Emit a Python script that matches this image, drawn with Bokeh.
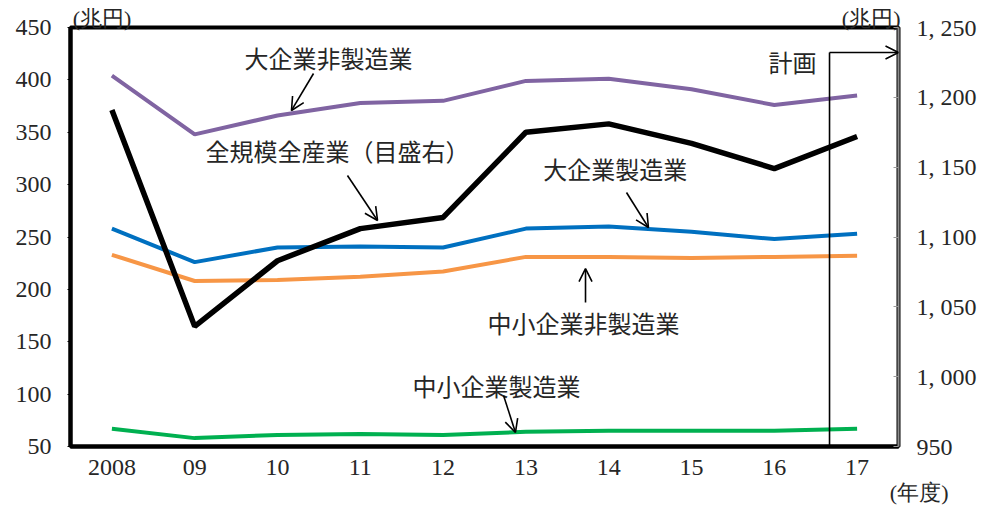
from bokeh.plotting import figure
from bokeh.models import (Range1d, LinearAxis, Label, Arrow, OpenHead,
                          FixedTicker, Title)
from bokeh.embed import file_html
from bokeh.resources import INLINE

# ---- data ----
years = ["2008", "09", "10", "11", "12", "13", "14", "15", "16", "17"]
large_nonmfg = [404, 348, 366, 378, 380, 399, 401, 391, 376, 385]   # 大企業非製造業
large_mfg = [258, 226, 240, 241, 240, 258, 260, 255, 248, 253]      # 大企業製造業
sme_nonmfg = [233, 208, 209, 212, 217, 231, 231, 230, 231, 232]     # 中小企業非製造業
sme_mfg = [67, 58, 61, 62, 61, 64, 65, 65, 65, 67]                  # 中小企業製造業
all_total = [1191, 1036, 1083, 1106, 1114, 1175, 1181, 1167, 1149, 1172]  # 全規模全産業（目盛右）

left_ticks = [50, 100, 150, 200, 250, 300, 350, 400, 450]
right_ticks = [950, 1000, 1050, 1100, 1150, 1200, 1250]
right_labels = ["950", "1, 000", "1, 050", "1, 100", "1, 150", "1, 200", "1, 250"]
unit_pos = [0.38, 9.67]
unit_labels = ["(兆円)", "(兆円)"]
x_unit_label = "(年度)"

# category slots: each year occupies one unit, centred at i + 0.5
xs = [i + 0.5 for i in range(len(years))]

JP = "Noto Sans CJK JP"
NUM = "Liberation Serif"
TXT = "#262626"

p = figure(x_range=Range1d(0, len(years)), y_range=Range1d(50, 450),
           frame_width=828, frame_height=419,
           min_border_left=70, min_border_right=78, min_border_top=27, min_border_bottom=65,
           output_backend="svg", toolbar_location=None)
p.extra_y_ranges = {"right": Range1d(950, 1250)}

p.xgrid.visible = False
p.ygrid.visible = False
p.outline_line_color = "black"
p.outline_line_width = 4
p.outline_line_alpha = 1
p.background_fill_color = "white"
p.border_fill_color = "white"

# left axis
yl = p.yaxis[0]
yl.ticker = FixedTicker(ticks=left_ticks)
yl.axis_line_width = 4
yl.axis_line_color = "black"
yl.major_tick_out = 3
yl.major_tick_in = 0
yl.minor_tick_out = 0
yl.minor_tick_in = 0
yl.major_label_text_font = NUM
yl.major_label_text_font_size = "24px"
yl.major_label_text_color = TXT
yl.major_label_standoff = 16

# bottom axis
xb = p.xaxis[0]
xb.ticker = FixedTicker(ticks=xs)
xb.major_label_overrides = {x: y for x, y in zip(xs, years)}
xb.axis_line_width = 4
xb.axis_line_color = "black"
xb.major_tick_out = 0
xb.major_tick_in = 0
xb.minor_tick_out = 0
xb.minor_tick_in = 0
xb.major_label_text_font = NUM
xb.major_label_text_font_size = "24px"
xb.major_label_text_color = TXT
xb.major_label_standoff = 13

# (年度) below the x axis, right of the frame
t = Title(text=x_unit_label, align="right", offset=-50, standoff=0,
          text_font=NUM, text_font_size="22px", text_font_style="normal",
          text_color=TXT)
p.add_layout(t, "below")

# right axis
yr = LinearAxis(y_range_name="right", ticker=FixedTicker(ticks=right_ticks),
                major_label_overrides={t_: s for t_, s in zip(right_ticks, right_labels)})
yr.axis_line_color = "#8c8c8c"
yr.axis_line_width = 2
yr.major_tick_in = 5
yr.major_tick_out = 0
yr.major_tick_line_color = "#9a9a9a"
yr.minor_tick_in = 0
yr.minor_tick_out = 0
yr.major_label_text_font = NUM
yr.major_label_text_font_size = "24px"
yr.major_label_text_color = TXT
yr.major_label_standoff = 18
p.add_layout(yr, "right")

# unit labels above the frame
ya = LinearAxis(ticker=FixedTicker(ticks=unit_pos),
                major_label_overrides={t_: s for t_, s in zip(unit_pos, unit_labels)})
ya.axis_line_color = None
ya.major_tick_line_color = None
ya.minor_tick_line_color = None
ya.major_tick_in = 0
ya.major_tick_out = 0
ya.minor_tick_in = 0
ya.minor_tick_out = 0
ya.major_label_standoff = -3
ya.major_label_text_font = NUM
ya.major_label_text_font_size = "22px"
ya.major_label_text_color = TXT
p.add_layout(ya, "above")

# series
p.line(xs, large_nonmfg, line_color="#8064A2", line_width=4)
p.line(xs, large_mfg, line_color="#0070C0", line_width=4)
p.line(xs, sme_nonmfg, line_color="#F79646", line_width=4)
p.line(xs, sme_mfg, line_color="#00B050", line_width=4)
p.line(xs, all_total, line_color="black", line_width=5.5, y_range_name="right")

# labels
def lab(x, y, t, align="left", size="24px", font=JP):
    p.add_layout(Label(x=x, y=y, text=t, text_font=font, text_font_size=size,
                       text_color=TXT, text_align=align, text_baseline="middle"))

def arr(x0, y0, x1, y1, head=True):
    p.add_layout(Arrow(x_start=x0, y_start=y0, x_end=x1, y_end=y1,
                       line_color="black", line_width=1.6,
                       end=OpenHead(size=13, line_width=1.6, line_color="black") if head else None))

lab(2.10, 421.4, "大企業非製造業")
arr(2.935, 406.1, 2.669, 370.8)
lab(1.63, 332.6, "全規模全産業（目盛右）")
arr(3.345, 308.7, 3.708, 265.8)
lab(5.71, 315.4, "大企業製造業")
arr(6.715, 292.5, 6.98, 259.1)
lab(5.036, 168.4, "中小企業非製造業")
arr(6.22, 187.5, 6.22, 219.9)
lab(4.13, 108.2, "中小企業製造業")
arr(5.23, 98.7, 5.374, 63.4)

# 計画
lab(8.43, 417.5, "計画")
arr(9.167, 43.5, 9.167, 426.1, head=False)
arr(9.167, 426.1, 10.0, 426.1)

open("out.html", "w").write(file_html(p, INLINE))
